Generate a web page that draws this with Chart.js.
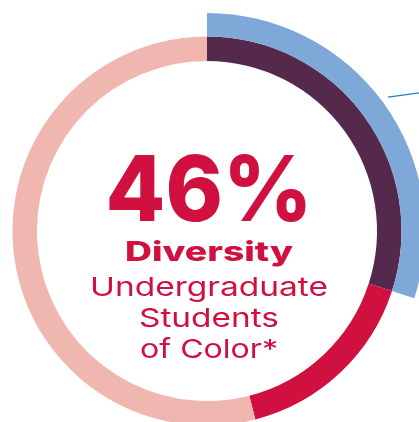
<!DOCTYPE html>
<html>
<head>
<meta charset="utf-8">
<script src="https://cdn.jsdelivr.net/npm/chart.js@4/dist/chart.umd.min.js"></script>
<style>
  html, body { margin: 0; padding: 0; width: 419px; height: 422px; overflow: hidden; background: #ffffff; }
  #wrap { position: absolute; left: -11px; top: 13px; width: 436px; height: 436px; }
</style>
</head>
<body>
<div id="wrap"><canvas id="c"></canvas></div>
<script>
// Data
const innerLabels = ['Students of Color (group A)', 'Students of Color (group B)', 'Other'];
const innerValues = [30, 16, 54];
const outerLabels = ['Highlighted', 'Rest'];
const outerValues = [30, 70];
const headline = '46%';
const titleLines = ['Diversity', 'Undergraduate', 'Students', 'of Color*'];

const RED = '#d0103f';

const centerText = {
  id: 'centerText',
  afterDraw(chart) {
    const ctx = chart.ctx;
    const meta = chart.getDatasetMeta(0);
    const arc = meta.data[0];
    const cx = arc.x + 2, cy = arc.y;
    const R = arc.outerRadius;
    ctx.save();
    ctx.fillStyle = RED;
    ctx.textAlign = 'center';
    ctx.textBaseline = 'alphabetic';
    const items = [
      { t: headline, font: '800 91px Inter', dy: -10, w: 207 },
      { t: titleLines[0], font: '800 27px Inter', dy: 30, w: 168 },
      { t: titleLines[1], font: '400 26px Inter', dy: 65, w: 238 },
      { t: titleLines[2], font: '400 26px Inter', dy: 96, w: 140 },
      { t: titleLines[3], font: '400 26px Inter', dy: 127, w: 138 }
    ];
    items.forEach(it => {
      ctx.font = it.font;
      const m = ctx.measureText(it.t).width;
      ctx.save();
      ctx.translate(cx, cy + it.dy);
      ctx.scale(it.w / m, 1);
      ctx.fillText(it.t, 0, 0);
      ctx.restore();
    });
    // leader line
    const a = 53.5 * Math.PI / 180;
    const r0 = R + 7;
    const x0 = arc.x + r0 * Math.sin(a), y0 = arc.y - r0 * Math.cos(a);
    ctx.strokeStyle = '#1f7fc4';
    ctx.lineWidth = 1.2;
    ctx.beginPath();
    ctx.moveTo(x0, y0);
    ctx.lineTo(chart.width, y0 - 5);
    ctx.stroke();
    ctx.restore();
  }
};

new Chart(document.getElementById('c'), {
  type: 'doughnut',
  data: {
    datasets: [
      {
        label: 'outer',
        labels: outerLabels,
        data: outerValues,
        backgroundColor: ['#7ea8d7', 'rgba(0,0,0,0)'],
        borderWidth: 0,
        weight: 23.5
      },
      {
        label: 'inner',
        labels: innerLabels,
        data: innerValues,
        backgroundColor: ['#54294b', '#d0103f', '#efb7af'],
        borderWidth: 0,
        weight: 24.5
      }
    ]
  },
  options: {
    responsive: true,
    maintainAspectRatio: false,
    animation: false,
    cutout: '78%',
    hoverOffset: 0,
    layout: { padding: 0 },
    plugins: { legend: { display: false }, tooltip: { enabled: false } }
  },
  plugins: [centerText]
});
</script>
</body>
</html>
